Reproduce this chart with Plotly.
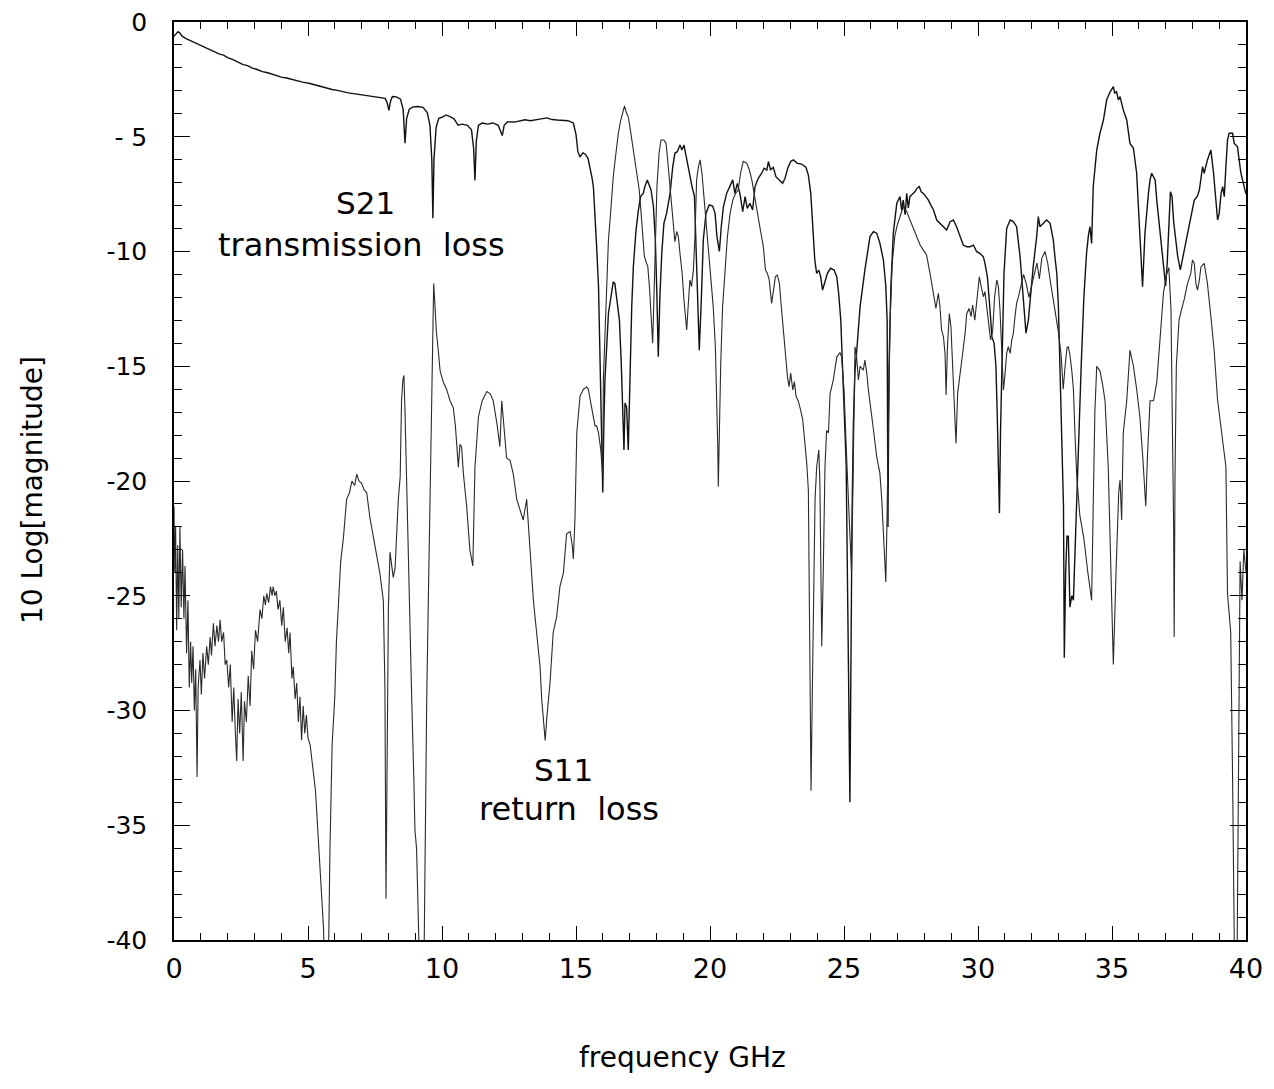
import plotly.graph_objects as go

# ---------------- data ----------------
s21_freq = [0.00,0.08,0.15,0.22,0.30,0.45,0.60,0.80,1.00,1.20,1.34,1.50,1.70,1.85,2.00,2.20,2.40,2.58,2.75,2.90,
            3.10,3.30,3.50,3.70,3.83,4.00,4.20,4.40,4.60,4.80,5.07,5.30,5.50,5.70,5.90,6.10,6.30,6.50,6.70,6.90,
            7.10,7.30,7.50,7.70,7.88,7.95,8.02,8.08,8.15,8.30,8.45,8.55,8.62,8.68,8.78,8.92,9.10,9.29,9.45,9.55,
            9.62,9.66,9.70,9.78,9.88,10.00,10.15,10.30,10.45,10.60,10.75,10.95,11.10,11.18,11.23,11.28,11.36,11.50,11.70,11.90,
            12.10,12.20,12.25,12.32,12.45,12.70,12.90,13.10,13.30,13.50,13.70,13.92,14.10,14.30,14.50,14.70,14.90,15.00,15.07,15.15,
            15.26,15.35,15.45,15.52,15.60,15.65,15.71,15.77,15.84,15.90,15.96,16.00,16.04,16.08,16.21,16.33,16.39,16.45,16.54,16.62,
            16.69,16.75,16.79,16.83,16.89,16.95,17.01,17.08,17.14,17.24,17.33,17.41,17.51,17.57,17.66,17.74,17.80,17.89,17.96,18.01,
            18.07,18.13,18.20,18.28,18.38,18.51,18.61,18.69,18.78,18.88,18.95,19.03,19.10,19.23,19.33,19.42,19.48,19.54,19.60,19.68,
            19.75,19.85,19.97,20.10,20.19,20.26,20.35,20.42,20.50,20.62,20.75,20.85,20.93,21.02,21.12,21.22,21.31,21.39,21.49,21.59,
            21.68,21.80,21.93,22.02,22.12,22.18,22.26,22.36,22.46,22.59,22.71,22.80,22.90,23.01,23.11,23.26,23.42,23.58,23.67,23.76,
            23.83,23.91,23.98,24.06,24.13,24.20,24.29,24.38,24.50,24.63,24.73,24.80,24.88,24.95,25.01,25.08,25.13,25.17,25.22,25.26,
            25.30,25.35,25.41,25.47,25.60,25.78,25.97,26.10,26.22,26.34,26.47,26.56,26.61,26.64,26.68,26.75,26.84,26.97,27.09,27.15,
            27.21,27.28,27.34,27.40,27.46,27.55,27.65,27.72,27.81,27.88,27.96,28.05,28.15,28.25,28.34,28.46,28.58,28.71,28.83,28.96,
            29.08,29.20,29.33,29.45,29.58,29.70,29.83,29.95,30.07,30.20,30.26,30.35,30.42,30.47,30.52,30.60,30.67,30.72,30.77,30.80,
            30.84,30.88,30.97,31.07,31.20,31.32,31.44,31.57,31.69,31.79,31.88,31.94,32.06,32.19,32.25,32.31,32.44,32.56,32.69,32.81,
            32.87,32.94,33.00,33.06,33.12,33.19,33.22,33.27,33.32,33.37,33.43,33.50,33.56,33.65,33.75,33.85,33.95,34.05,34.12,34.18,
            34.24,34.30,34.43,34.55,34.68,34.80,34.93,35.05,35.10,35.17,35.24,35.30,35.42,35.55,35.67,35.80,35.92,36.02,36.07,36.14,
            36.23,36.36,36.42,36.48,36.55,36.61,36.67,36.79,36.92,37.00,37.06,37.12,37.18,37.24,37.30,37.38,37.45,37.55,37.62,37.69,
            37.82,37.94,38.07,38.18,38.26,38.38,38.44,38.56,38.69,38.79,38.88,38.94,39.00,39.07,39.13,39.19,39.25,39.31,39.37,39.50,
            39.56,39.68,39.81,39.87,39.95,40.00]
s21_db = [-0.62,-0.50,-0.42,-0.48,-0.62,-0.72,-0.80,-0.92,-1.02,-1.12,-1.22,-1.27,-1.40,-1.44,-1.55,-1.64,-1.74,-1.86,-1.90,-2.00,
          -2.07,-2.16,-2.21,-2.29,-2.31,-2.40,-2.44,-2.51,-2.57,-2.62,-2.68,-2.76,-2.80,-2.88,-2.94,-2.98,-3.04,-3.09,-3.12,-3.16,
          -3.18,-3.23,-3.25,-3.30,-3.33,-3.50,-3.85,-3.45,-3.25,-3.26,-3.36,-3.80,-5.28,-4.20,-3.80,-3.70,-3.68,-3.72,-3.95,-4.50,
          -6.00,-8.55,-6.00,-4.60,-4.20,-4.15,-4.05,-4.12,-4.22,-4.50,-4.45,-4.50,-4.70,-5.50,-6.90,-5.20,-4.50,-4.40,-4.45,-4.40,
          -4.50,-4.80,-4.95,-4.50,-4.35,-4.36,-4.30,-4.26,-4.30,-4.25,-4.22,-4.18,-4.25,-4.27,-4.30,-4.30,-4.40,-4.90,-5.65,-5.87,
          -5.70,-5.76,-5.95,-6.30,-6.80,-7.20,-8.30,-9.80,-11.50,-14.90,-17.80,-20.50,-17.50,-15.60,-12.70,-11.68,-11.32,-11.40,-12.40,-12.99,
          -14.90,-17.05,-18.65,-16.60,-16.80,-18.65,-15.60,-12.40,-10.66,-9.06,-8.19,-7.61,-7.47,-7.17,-6.88,-7.17,-7.32,-8.05,-9.50,-11.50,
          -14.58,-11.97,-10.08,-8.77,-8.34,-7.47,-6.30,-5.72,-5.65,-5.36,-5.58,-5.36,-5.80,-6.67,-7.17,-7.61,-10.08,-12.70,-14.30,-11.97,
          -9.50,-8.34,-7.97,-8.02,-8.34,-9.35,-10.00,-8.92,-8.05,-7.47,-7.17,-6.88,-7.47,-7.03,-7.50,-8.26,-7.61,-8.12,-7.90,-8.19,
          -7.17,-6.81,-6.59,-6.37,-6.45,-6.08,-6.45,-6.33,-6.74,-6.88,-7.03,-6.81,-6.37,-6.08,-6.01,-6.16,-6.19,-6.33,-6.67,-7.47,
          -8.77,-10.37,-10.95,-10.81,-11.10,-11.68,-11.32,-10.95,-10.73,-10.81,-11.10,-11.82,-12.99,-14.87,-17.05,-19.23,-23.50,-28.50,-34.00,-27.00,
          -21.50,-17.50,-15.20,-14.40,-12.40,-10.80,-9.35,-9.13,-9.20,-9.64,-10.37,-11.50,-13.00,-22.00,-15.00,-11.50,-9.20,-7.90,-7.61,-8.20,
          -7.76,-8.40,-7.47,-8.10,-7.61,-7.50,-7.39,-7.25,-7.17,-7.40,-7.47,-7.60,-7.76,-8.00,-8.19,-8.63,-8.77,-8.92,-9.06,-8.70,
          -8.63,-8.92,-9.35,-9.72,-9.79,-9.79,-9.72,-10.01,-10.08,-10.23,-10.52,-11.10,-12.11,-12.99,-13.71,-14.00,-15.00,-17.20,-20.10,-21.40,
          -17.90,-15.30,-10.95,-8.99,-8.63,-8.70,-8.92,-10.23,-11.97,-13.56,-12.99,-12.11,-10.66,-9.35,-8.48,-8.92,-8.77,-8.63,-8.77,-9.50,
          -10.23,-10.95,-12.40,-15.30,-18.20,-21.10,-27.70,-24.00,-22.40,-22.40,-25.50,-25.00,-25.20,-22.00,-18.00,-15.00,-12.00,-10.08,-9.30,-8.92,
          -9.65,-7.17,-5.58,-4.85,-4.27,-3.40,-3.04,-2.82,-3.10,-3.04,-3.40,-3.25,-3.83,-4.27,-5.29,-5.50,-6.59,-8.48,-9.94,-11.53,
          -9.21,-7.47,-6.88,-6.59,-6.74,-6.88,-7.76,-9.21,-10.66,-11.50,-10.50,-8.50,-7.40,-7.60,-8.70,-9.50,-10.20,-10.80,-10.40,-9.94,
          -9.21,-8.48,-7.76,-7.60,-7.32,-6.30,-6.59,-6.01,-5.58,-6.59,-8.05,-8.63,-8.34,-7.47,-7.17,-7.61,-6.30,-5.14,-4.85,-4.85,
          -5.29,-5.43,-6.59,-6.88,-7.30,-7.50]

s11_freq = [0.00,0.03,0.06,0.10,0.14,0.18,0.22,0.27,0.32,0.37,0.41,0.47,0.52,0.57,0.62,0.66,0.71,0.76,0.81,0.86,
            0.90,0.97,1.02,1.08,1.14,1.22,1.28,1.35,1.40,1.47,1.53,1.60,1.66,1.72,1.78,1.85,1.91,1.97,2.04,2.10,
            2.17,2.23,2.29,2.34,2.39,2.45,2.51,2.58,2.63,2.70,2.77,2.84,2.90,2.97,3.04,3.12,3.21,3.28,3.35,3.41,
            3.46,3.53,3.60,3.66,3.70,3.76,3.82,3.88,3.95,4.02,4.08,4.15,4.22,4.28,4.33,4.40,4.45,4.52,4.58,4.64,
            4.70,4.76,4.82,4.88,4.94,5.00,5.08,5.18,5.28,5.38,5.48,5.58,5.63,5.75,5.82,5.90,6.00,6.06,6.13,6.22,
            6.32,6.44,6.55,6.64,6.74,6.82,6.90,7.00,7.10,7.19,7.31,7.42,7.56,7.68,7.81,7.87,7.91,7.95,8.00,8.06,
            8.12,8.18,8.25,8.31,8.37,8.44,8.49,8.54,8.58,8.62,8.68,8.78,8.87,8.95,8.99,9.05,9.12,9.18,9.32,9.38,
            9.43,9.49,9.55,9.61,9.66,9.69,9.73,9.79,9.86,9.93,10.05,10.17,10.30,10.42,10.50,10.55,10.61,10.67,10.73,10.80,
            10.92,11.04,11.15,11.23,11.36,11.50,11.67,11.80,11.91,12.05,12.16,12.23,12.30,12.41,12.54,12.66,12.79,12.90,13.03,13.16,
            13.28,13.41,13.53,13.66,13.72,13.80,13.85,13.92,14.03,14.15,14.28,14.40,14.53,14.65,14.78,14.86,14.90,14.96,15.03,15.15,
            15.28,15.40,15.46,15.52,15.65,15.71,15.77,15.84,15.92,16.00,16.02,16.12,16.21,16.29,16.39,16.49,16.58,16.67,16.75,16.81,
            16.87,16.95,17.01,17.10,17.20,17.29,17.36,17.43,17.49,17.55,17.61,17.68,17.74,17.80,17.86,17.91,17.96,18.02,18.10,18.17,
            18.28,18.36,18.42,18.48,18.56,18.63,18.69,18.76,18.82,18.88,18.96,19.03,19.10,19.13,19.20,19.25,19.31,19.38,19.44,19.50,
            19.57,19.63,19.70,19.78,19.85,19.94,20.02,20.12,20.20,20.25,20.29,20.31,20.35,20.40,20.47,20.56,20.65,20.75,20.85,20.95,
            21.05,21.14,21.24,21.37,21.47,21.56,21.64,21.72,21.80,21.89,21.99,22.07,22.14,22.21,22.30,22.36,22.44,22.51,22.59,22.66,
            22.74,22.81,22.89,22.95,23.01,23.09,23.15,23.21,23.30,23.38,23.46,23.53,23.61,23.67,23.72,23.77,23.82,23.86,23.92,23.98,
            24.06,24.10,24.14,24.17,24.23,24.29,24.35,24.42,24.48,24.60,24.73,24.85,24.91,25.00,25.10,25.20,25.28,25.33,25.38,25.41,
            25.47,25.54,25.60,25.72,25.78,25.85,25.91,26.03,26.10,26.22,26.34,26.41,26.48,26.56,26.60,26.66,26.72,26.80,26.90,27.00,
            27.09,27.21,27.34,27.46,27.59,27.71,27.84,27.96,28.08,28.21,28.33,28.43,28.52,28.58,28.64,28.71,28.77,28.81,28.86,28.93,
            28.99,29.05,29.11,29.18,29.24,29.33,29.43,29.52,29.58,29.67,29.74,29.80,29.88,29.95,30.05,30.12,30.20,30.26,30.32,30.40,
            30.47,30.55,30.62,30.70,30.76,30.82,30.88,30.95,31.01,31.07,31.13,31.20,31.26,31.32,31.38,31.44,31.51,31.60,31.70,31.80,
            31.90,32.00,32.10,32.20,32.29,32.38,32.50,32.60,32.70,32.80,32.90,33.00,33.10,33.18,33.25,33.32,33.37,33.43,33.50,33.56,
            33.62,33.68,33.80,33.95,34.10,34.24,34.30,34.36,34.43,34.55,34.65,34.74,34.86,34.95,35.05,35.15,35.25,35.30,35.36,35.42,
            35.55,35.67,35.80,35.92,36.04,36.15,36.26,36.32,36.36,36.42,36.55,36.67,36.79,36.92,37.04,37.12,37.20,37.26,37.30,37.32,
            37.35,37.40,37.50,37.60,37.69,37.82,37.94,38.00,38.07,38.13,38.19,38.26,38.32,38.44,38.56,38.69,38.81,38.94,39.07,39.19,
            39.25,39.31,39.43,39.50,39.58,39.66,39.72,39.78,39.85,39.92,40.00]
s11_db = [-21.1,-24.0,-22.0,-26.5,-22.8,-26.0,-22.0,-25.5,-23.0,-26.0,-23.7,-27.5,-25.2,-29.0,-27.0,-28.8,-27.2,-30.0,-28.2,-32.9,
          -29.0,-27.8,-29.3,-27.5,-28.6,-27.2,-28.0,-26.8,-27.6,-26.2,-27.2,-26.3,-27.0,-26.05,-27.0,-26.6,-28.0,-27.8,-29.0,-28.0,
          -30.5,-29.0,-31.0,-32.2,-29.5,-31.0,-29.2,-32.2,-29.6,-30.5,-28.5,-29.8,-27.4,-28.2,-26.5,-27.0,-25.6,-26.0,-25.0,-25.4,
          -24.9,-25.3,-24.6,-25.0,-24.6,-25.0,-24.8,-25.6,-25.2,-26.3,-25.5,-27.0,-26.4,-27.5,-26.6,-28.6,-28.1,-29.5,-28.8,-30.5,
          -29.4,-31.3,-29.8,-31.0,-30.2,-31.2,-31.5,-32.5,-33.5,-35.5,-37.5,-39.5,-42.0,-42.0,-36.0,-31.5,-29.4,-27.0,-25.5,-23.5,
          -22.5,-20.8,-20.5,-20.0,-20.2,-19.7,-20.0,-20.1,-20.4,-20.5,-21.6,-22.3,-23.1,-24.0,-25.2,-29.0,-38.2,-31.0,-25.5,-23.1,
          -23.8,-24.2,-23.8,-22.1,-20.8,-19.8,-16.5,-15.6,-15.4,-17.0,-20.0,-26.0,-29.5,-33.0,-35.2,-36.0,-38.5,-42.0,-42.0,-33.0,
          -29.5,-25.2,-20.8,-16.5,-12.0,-11.4,-12.2,-13.5,-14.3,-15.2,-15.7,-16.0,-16.5,-16.8,-17.6,-18.6,-19.4,-18.4,-18.5,-19.7,
          -21.1,-23.0,-23.7,-19.4,-17.2,-16.5,-16.1,-16.2,-16.5,-17.5,-18.5,-16.5,-17.6,-19.0,-19.1,-19.7,-20.8,-21.2,-21.7,-20.8,
          -23.1,-25.2,-26.6,-28.1,-29.5,-30.6,-31.3,-30.2,-28.8,-26.6,-25.9,-24.6,-24.0,-22.3,-22.2,-22.8,-23.4,-21.7,-17.9,-16.3,
          -16.0,-15.9,-16.0,-16.4,-17.2,-17.6,-17.6,-17.9,-18.6,-19.8,-15.6,-12.7,-9.50,-8.34,-6.74,-5.72,-4.85,-4.27,-3.91,-3.66,
          -3.91,-4.13,-4.56,-5.29,-6.01,-6.74,-7.32,-8.34,-9.50,-10.20,-10.44,-10.66,-11.53,-12.99,-14.00,-11.97,-9.50,-7.17,-5.72,-5.14,
          -5.14,-5.29,-6.01,-6.88,-8.05,-9.06,-9.57,-9.13,-9.35,-10.08,-10.95,-12.11,-12.99,-13.42,-12.11,-11.24,-11.53,-10.81,-9.35,-6.88,
          -6.30,-6.01,-6.59,-7.76,-8.63,-9.79,-10.95,-12.40,-14.15,-16.30,-18.50,-20.25,-17.80,-14.90,-12.40,-10.66,-9.35,-8.34,-7.76,-7.47,
          -7.32,-6.59,-6.07,-6.15,-6.45,-6.88,-7.47,-7.90,-8.63,-9.13,-9.79,-10.81,-10.95,-11.24,-12.26,-11.68,-11.10,-11.02,-11.39,-12.40,
          -13.56,-14.58,-15.45,-15.89,-15.30,-16.03,-15.67,-16.30,-16.54,-16.90,-17.34,-18.21,-19.23,-20.40,-26.0,-33.50,-29.0,-25.20,-20.80,-19.40,
          -18.65,-20.10,-24.0,-27.20,-23.70,-19.40,-17.80,-17.90,-16.20,-15.60,-14.60,-14.40,-14.60,-16.0,-19.0,-22.0,-24.0,-20.5,-16.5,-14.15,
          -14.58,-15.60,-15.00,-15.17,-14.73,-15.30,-16.03,-17.05,-17.78,-18.94,-19.67,-20.83,-22.3,-24.40,-22.0,-17.0,-13.0,-10.5,-9.3,-8.8,
          -8.48,-8.05,-8.27,-8.63,-8.99,-9.35,-9.72,-9.94,-10.15,-10.95,-11.75,-12.48,-11.82,-12.40,-13.42,-13.71,-14.44,-16.25,-14.15,-12.70,
          -13.27,-15.00,-16.76,-18.36,-16.18,-15.31,-14.58,-13.56,-12.70,-12.48,-12.84,-12.33,-12.99,-12.26,-11.10,-11.53,-11.97,-11.75,-12.40,-13.27,
          -13.85,-13.42,-11.97,-11.24,-11.53,-12.55,-14.58,-16.03,-15.31,-14.44,-14.15,-14.44,-13.85,-13.56,-12.84,-12.26,-11.97,-11.5,-11.0,-11.4,
          -12.0,-11.5,-11.0,-10.5,-11.2,-10.3,-10.0,-10.5,-11.3,-12.0,-12.8,-13.5,-14.5,-16.0,-15.0,-14.2,-14.15,-14.5,-15.2,-16.0,
          -18.0,-19.7,-21.5,-22.5,-24.0,-25.2,-21.0,-17.0,-15.0,-15.2,-15.8,-16.5,-19.4,-23.0,-28.0,-24.0,-20.5,-19.96,-21.7,-17.9,
          -16.5,-14.3,-15.0,-16.0,-17.2,-19.0,-21.1,-19.0,-17.9,-16.5,-16.5,-15.7,-13.85,-11.8,-11.0,-10.7,-12.5,-17.0,-22.0,-26.8,
          -20.0,-15.0,-13.0,-12.5,-12.11,-11.39,-10.95,-10.37,-10.52,-11.39,-11.68,-11.24,-10.66,-10.52,-11.39,-12.84,-14.29,-16.47,-17.63,-18.65,
          -19.38,-24.9,-26.6,-33.0,-42.0,-42.0,-30.0,-23.5,-25.2,-23.0,-24.0]

x_ticks = [0, 5, 10, 15, 20, 25, 30, 35, 40]
y_ticks = [0, -5, -10, -15, -20, -25, -30, -35, -40]
y_ticktext = ["0", "- 5", "-10", "-15", "-20", "-25", "-30", "-35", "-40"]

FONT = "DejaVu Sans"

fig = go.Figure()
fig.add_trace(go.Scatter(x=s21_freq, y=s21_db, mode="lines", name="S21",
                         line=dict(color="#111111", width=1.4), showlegend=False))
fig.add_trace(go.Scatter(x=s11_freq, y=s11_db, mode="lines", name="S11",
                         line=dict(color="#2a2a2a", width=1.1), showlegend=False))

axis_common = dict(showline=True, linecolor="black", linewidth=1.5, mirror="allticks",
                   showgrid=False, zeroline=False, ticks="inside", tickcolor="black", tickwidth=1.2,
                   automargin=False, ticklabeloverflow="allow")

fig.update_xaxes(range=[0, 40], tickvals=x_ticks, ticklen=14,
                 minor=dict(ticks="inside", ticklen=7, dtick=1, tickcolor="black", tickwidth=1),
                 ticklabelstandoff=4, tickfont=dict(family=FONT, size=27, color="black"),
                 **axis_common)
fig.update_yaxes(range=[-40, 0], tickvals=y_ticks, ticktext=y_ticktext, ticklen=16,
                 minor=dict(ticks="inside", ticklen=8, dtick=1, tickcolor="black", tickwidth=1),
                 ticklabelstandoff=20, tickfont=dict(family=FONT, size=25, color="black"),
                 **axis_common)

annotations = [
    dict(x=7.13, y=-7.89, text="S21", xref="x", yref="y", showarrow=False,
         font=dict(family=FONT, size=31, color="black")),
    dict(x=7.01, y=-9.72, text="transmission  loss", xref="x", yref="y", showarrow=False,
         font=dict(family=FONT, size=32, color="black")),
    dict(x=14.55, y=-32.6, text="S11", xref="x", yref="y", showarrow=False,
         font=dict(family=FONT, size=31, color="black")),
    dict(x=14.74, y=-34.3, text="return  loss", xref="x", yref="y", showarrow=False,
         font=dict(family=FONT, size=32, color="black")),
    dict(x=-0.1326, y=0.49, text="10 Log[magnitude]", xref="paper", yref="paper", showarrow=False,
         textangle=-90, xanchor="center", yanchor="middle",
         font=dict(family=FONT, size=28, color="black")),
    dict(x=0.474, y=-0.1285, text="frequency GHz", xref="paper", yref="paper", showarrow=False,
         xanchor="center", yanchor="middle",
         font=dict(family=FONT, size=28, color="black")),
]

# the page body adds an 8 px margin, so the figure is 8 px smaller on each axis
fig.update_layout(width=1266, height=1081,
                  margin=dict(l=166, r=28, t=14, b=149),
                  paper_bgcolor="white", plot_bgcolor="white",
                  annotations=annotations)

fig.write_html("out.html")
